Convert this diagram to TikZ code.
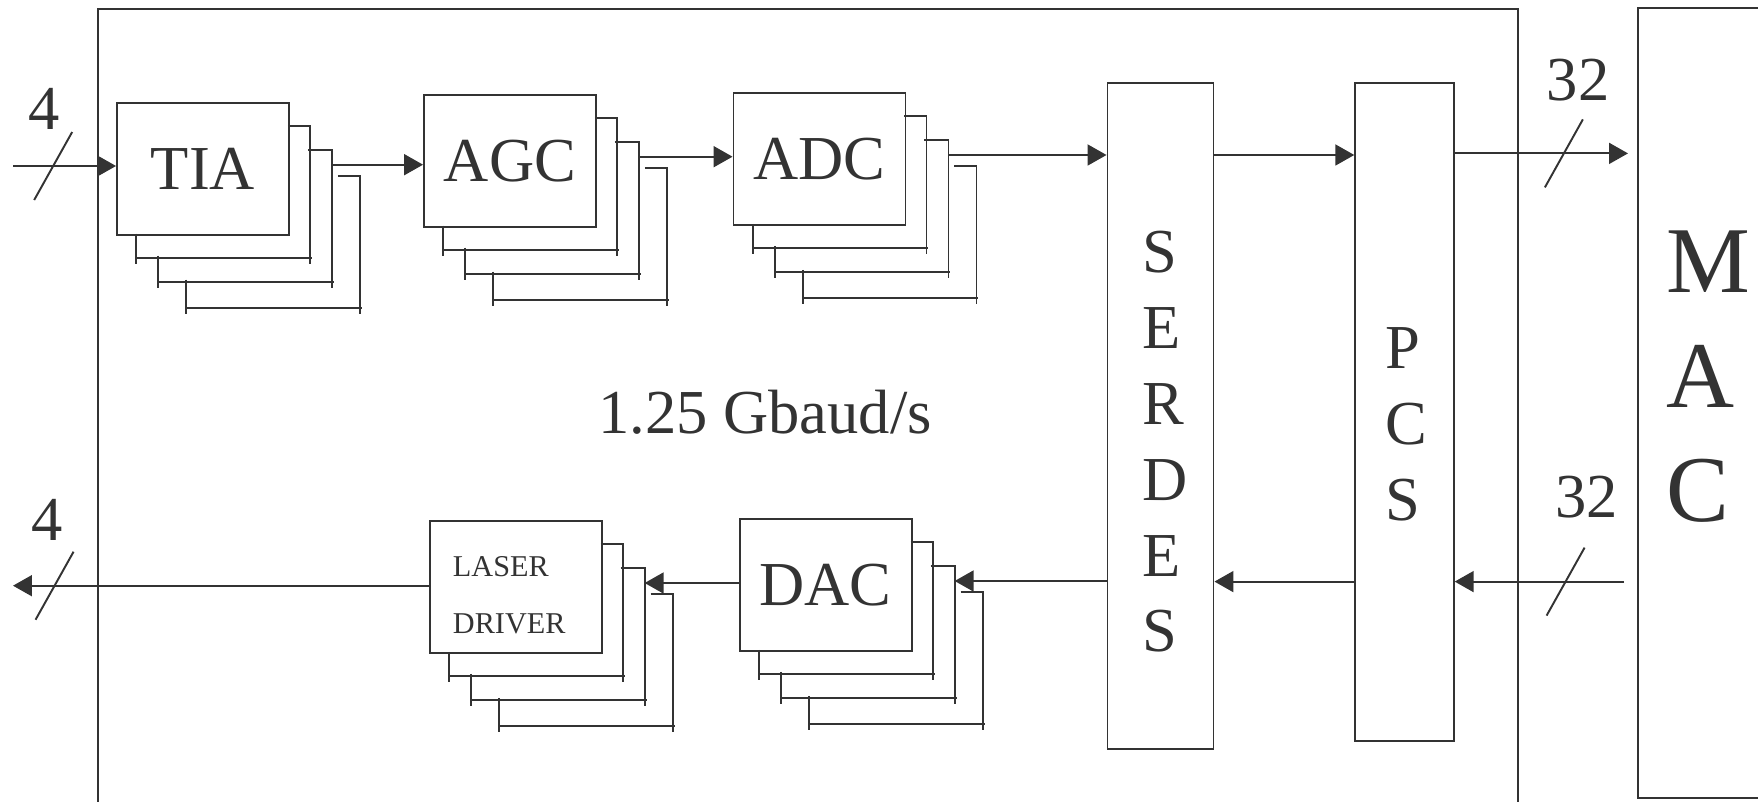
\documentclass[tikz,border=0pt]{standalone}
\usepackage{fontspec}
\setmainfont{Liberation Serif}
\usetikzlibrary{arrows.meta,calc}
\definecolor{ink}{HTML}{333333}
\tikzset{
	diagstyle/.style={
		>={Triangle[length=1.9mm, width=2.1mm]},
		line width=0.55pt,
		color=ink},
	buswidth/.pic={\draw (-19,34) -- (19,-34);}}
\newcommand{\stackcopies}[1]{%
	\foreach \ox/\ot/\ob/\sx/\sy in {20/24/22/-2/-2, 42/48/46/18/20, 70/74/72/48/44}{
		\draw ($(#1.north east)+(\sx,\ot)$) -| ($(#1.south east)+(\ox,\ob+6)$);
		\draw ($(#1.south west)+(\ox,\sy)$) -- ($(#1.south west)+(\ox,\ob+6)$);
		\draw ($(#1.south west)+(\ox,\ob)$) -- ($(#1.south east)+(\ox+2,\ob)$);
	}
	\coordinate (#1-r) at ($(#1.east)+(42,-4)$);}

\begin{document}
\begin{tikzpicture}[diagstyle, x=0.1mm, y=-0.1mm,
	box/.style={draw, inner sep=0pt, minimum width=17.2mm, minimum height=13.2mm,
		font=\fontsize{17.8}{21.6}\selectfont},
	letters/.style={inner sep=0pt, anchor=north west, align=left,
		font=\fontsize{17.8}{21.6}\selectfont},
	buslabel/.style={inner sep=0pt, font=\fontsize{17.8}{21.6}\selectfont},
	]
	\useasboundingbox (0,0) rectangle (1758,802);

	\node[draw, inner sep=0pt, minimum width=142mm, minimum height=89.1mm] (phy) at (807.7,454.5) {};
	\node[draw, inner sep=0pt, minimum width=20mm, minimum height=79.03mm] (mac) at (1738,402.9) {};

	\node[box] (tia) at (203,168.7) {TIA};
	\node[box] (agc) at (510,160.7) {AGC};
	\node[box] (adc) at (819.5,159) {ADC};
	\node[box] (dac) at (825.7,585) {DAC};
	\node[box] (laser) at (515.7,587) {};
	\stackcopies{tia}
	\stackcopies{agc}
	\stackcopies{adc}
	\stackcopies{dac}
	\stackcopies{laser}

	\node[draw, inner sep=0pt, minimum width=10.6mm, minimum height=66.57mm] (serdes) at (1160.5,416.2) {};
	\node[draw, inner sep=0pt, minimum width=9.85mm, minimum height=65.8mm] (pcs) at (1404.5,412.3) {};

	\node[letters] (serdes-txt) at (1141.8,230) {S\\E\\R\\D\\E\\S};
	\node[letters] (pcs-txt) at (1384.5,327) {P\\C\\S};
	\node[letters, font=\fontsize{26.8}{32.6}\selectfont] (mac-txt) at (1666,230) {M\\A\\C};
	\node[letters, font=\fontsize{8.6}{16.1}\selectfont] (laser-txt) at (452,556) {LASER\\DRIVER};
	\node[buslabel, anchor=base] (rate) at (765,433.3) {1.25 Gbaud/s};

	\node[buslabel] (n-in) at (44.3,108.6) {4};
	\node[buslabel] (n-out) at (46.9,519.7) {4};
	\node[buslabel] (n-o) at (1578,80.4) {32};
	\node[buslabel] (n-i) at (1586.7,496.7) {32};

	\coordinate (in) at (13,166);
	\coordinate (out) at (13,585.7);
	\coordinate (mac-o) at (1628,153.4);
	\coordinate (mac-i) at (1624,581.6);

	\draw[->] (in) -- coordinate[pos=.39] (bus-in) (in -| tia.west);
	\draw[->] (tia-r) -- (tia-r -| agc.west);
	\draw[->] (agc-r) -- (agc-r -| adc.west);
	\draw[->] (adc-r) -- (adc-r -| serdes.west);
	\draw[->] (serdes.east |- adc-r) -- (adc-r -| pcs.west);
	\draw[->] (mac-o -| pcs.east) -- coordinate[pos=.63] (bus-o) (mac-o);

	\draw[->] (mac-i) -- coordinate[pos=.345] (bus-i) (mac-i -| pcs.east);
	\draw[->] (mac-i -| pcs.west) -- (mac-i -| serdes.east);
	\draw[->] (dac-r -| serdes.west) -- (dac-r);
	\draw[->] (laser-r -| dac.west) -- (laser-r);
	\draw[->] (laser.west |- out) -- coordinate[pos=.9] (bus-out) (out);

	\pic at (bus-in) {buswidth};
	\pic at (bus-out) {buswidth};
	\pic at (bus-o) {buswidth};
	\pic at (bus-i) {buswidth};

\end{tikzpicture}
\end{document}
